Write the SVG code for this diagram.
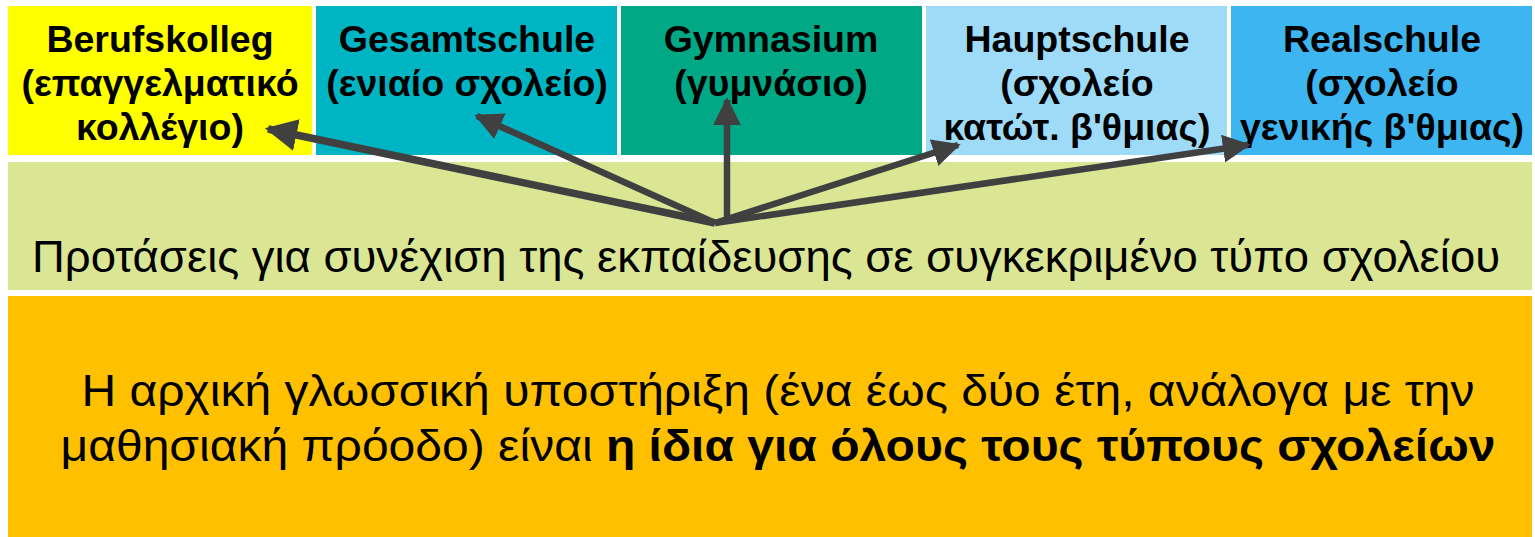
<svg xmlns="http://www.w3.org/2000/svg" width="1535" height="537" viewBox="0 0 1535 537">
<defs>
<style>
.t{font-family:"Liberation Sans",Arial,sans-serif;font-weight:bold;font-size:37.5px;fill:#000;text-anchor:middle}
.m{font-family:"Liberation Sans",Arial,sans-serif;font-size:45px;fill:#000}
.b{font-family:"Liberation Sans",Arial,sans-serif;font-size:45px;fill:#000;text-anchor:middle}
.c{stroke:#404040;stroke-width:6.5;fill:none}
</style>
<marker id="ah" viewBox="0 0 10 10" refX="9" refY="5" markerWidth="4.3" markerHeight="4.3" markerUnits="strokeWidth" orient="auto">
<path d="M0,0 L10,5 L0,10 z" fill="#404040"/>
</marker>
</defs>
<rect width="1535" height="537" fill="#fff"/>
<g id="berufskolleg">
<rect x="8" y="6" width="304" height="149" fill="#FFFF00"/>
<text class="t" x="160" y="52">Berufskolleg</text>
<text class="t" x="160" y="96">(επαγγελματικό</text>
<text class="t" x="160" y="140">κολλέγιο)</text>
</g>
<g id="gesamtschule">
<rect x="316" y="6" width="301" height="149" fill="#00B5C3"/>
<text class="t" x="467" y="52">Gesamtschule</text>
<text class="t" x="467" y="96">(ενιαίο σχολείο)</text>
</g>
<g id="gymnasium">
<rect x="621" y="6" width="301" height="149" fill="#00A886"/>
<text class="t" x="771" y="52">Gymnasium</text>
<text class="t" x="771" y="96">(γυμνάσιο)</text>
</g>
<g id="hauptschule">
<rect x="926" y="6" width="301" height="149" fill="#9DDBF9"/>
<text class="t" x="1077" y="52">Hauptschule</text>
<text class="t" x="1077" y="96">(σχολείο</text>
<text class="t" x="1077" y="140">κατώτ. β'θμιας)</text>
</g>
<g id="realschule">
<rect x="1231" y="6" width="301" height="149" fill="#3DB5F0"/>
<text class="t" x="1382" y="52">Realschule</text>
<text class="t" x="1382" y="96">(σχολείο</text>
<text class="t" x="1382" y="140">γενικής β'θμιας)</text>
</g>
<g id="proposals">
<rect x="8" y="162" width="1524" height="128" fill="#DAE694"/>
<text class="m" x="32" y="272" textLength="1468" lengthAdjust="spacingAndGlyphs">Προτάσεις για συνέχιση της εκπαίδευσης σε συγκεκριμένο τύπο σχολείου</text>
</g>
<g id="support">
<rect x="8" y="296" width="1524" height="241" fill="#FFC000"/>
<text class="b" x="778" y="406" textLength="1393" lengthAdjust="spacingAndGlyphs">Η αρχική γλωσσική υποστήριξη (ένα έως δύο έτη, ανάλογα με την</text>
<text class="b" x="778" y="461" textLength="1435" lengthAdjust="spacingAndGlyphs">μαθησιακή πρόοδο) είναι <tspan font-weight="bold">η ίδια για όλους τους τύπους σχολείων</tspan></text>
</g>
<g id="connectors">
<line class="c" x1="715" y1="223" x2="268" y2="129" marker-end="url(#ah)" style="stroke-width:7.5"/>
<line class="c" x1="715" y1="223" x2="477" y2="116" marker-end="url(#ah)"/>
<line class="c" x1="727" y1="223" x2="727" y2="100" marker-end="url(#ah)"/>
<line class="c" x1="715" y1="223" x2="958" y2="145" marker-end="url(#ah)"/>
<line class="c" x1="715" y1="223" x2="1248" y2="145" marker-end="url(#ah)"/>
</g>
</svg>
